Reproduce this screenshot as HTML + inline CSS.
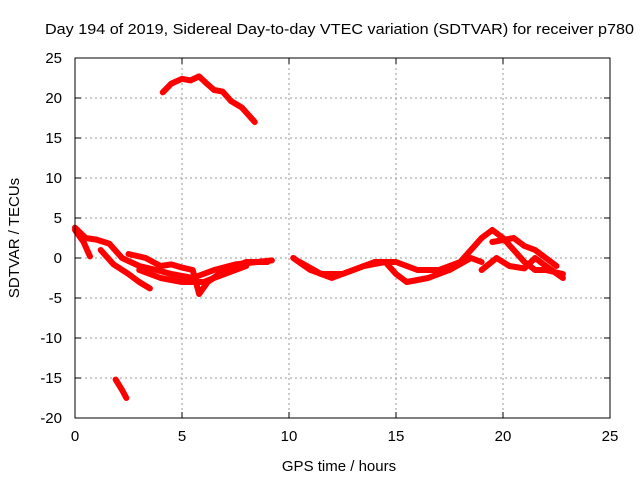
<!DOCTYPE html>
<html><head><meta charset="utf-8"><style>
body{margin:0;background:#fff}
svg{display:block;font-family:"Liberation Sans",sans-serif}
</style></head><body>
<svg id="chart" width="640" height="480">
<text x="45" y="34" textLength="589" lengthAdjust="spacingAndGlyphs" font-size="15">Day 194 of 2019, Sidereal Day-to-day VTEC variation (SDTVAR) for receiver p780</text>
<text x="339" y="471" text-anchor="middle" font-size="15">GPS time / hours</text>
<text transform="translate(19,238) rotate(-90)" text-anchor="middle" font-size="15">SDTVAR / TECUs</text>
<g id="grid"></g><g id="axes"></g><g id="series"></g>
<rect x="75" y="58" width="535" height="360" fill="none" stroke="#000"/>
</svg>
<script>
const xTicks=[0,5,10,15,20,25];
const yTicks=[25,20,15,10,5,0,-5,-10,-15,-20];
const trackTop=[[4.1,20.7],[4.5,21.8],[5,22.4],[5.4,22.2],[5.8,22.7],[6.2,21.7],[6.5,21],[6.9,20.8],[7.3,19.6],[7.8,18.8],[8.4,17]];
const trackLow=[[1.9,-15.2],[2.2,-16.5],[2.4,-17.5]];
const trackC1=[[0,3.8],[0.5,2.5],[1,2.3],[1.6,1.8],[2.2,0],[3,-1],[3.8,-1.5],[4.5,-2],[5.5,-2.5],[6.5,-1.5],[7.5,-0.8],[8.5,-0.5],[9.2,-0.3]];
const trackC2=[[0,3.5],[0.4,2],[0.7,0.2]];
const trackC3=[[1.2,1],[1.8,-0.8],[2.5,-2],[3,-3],[3.5,-3.8]];
const trackC4=[[2.5,0.5],[3.3,0],[4,-1],[4.5,-0.8],[5,-1.2],[5.5,-1.5],[5.8,-4.5],[6.2,-3],[7,-1.5],[8,-0.5],[9,-0.5]];
const trackC5=[[3,-1.5],[4,-2.5],[5,-3],[6,-3],[7,-2],[8,-1]];
const trackD1=[[10.2,0],[11,-1.5],[12,-2.5],[13,-1.5],[14,-0.5],[15,-0.5],[16,-1.5],[17,-1.5],[18,-0.5],[19,2.5],[19.5,3.5],[20,2.5],[20.5,1],[21,-0.5],[21.5,-1.5],[22,-1.5],[22.8,-2]];
const trackD2=[[10.5,-0.5],[11.5,-2],[12.5,-2],[13.5,-1],[14.5,-0.5],[15,-2],[15.5,-3],[16.5,-2.5],[17.5,-1.5],[18.5,0],[19,-0.5]];
const trackD3=[[19,-1.5],[19.7,0],[20.3,-1],[21,-1.3],[21.5,0],[22,-1],[22.8,-2.5]];
const trackD4=[[19.5,2],[20.5,2.5],[21,1.5],[21.5,1],[22,0],[22.5,-1]];
const tracks=[trackTop,trackLow,trackC1,trackC2,trackC3,trackC4,trackC5,trackD1,trackD2,trackD3,trackD4];
const X=v=>75+v*535/25, Y=v=>258-v*8;
const NS="http://www.w3.org/2000/svg";
const grid=document.getElementById('grid'),axes=document.getElementById('axes'),ser=document.getElementById('series');
function mk(t,a,p){const e=document.createElementNS(NS,t);for(const k in a)e.setAttribute(k,a[k]);p.appendChild(e);return e;}
xTicks.forEach(t=>{
 if(t>0&&t<25){const g=mk('line',{x1:X(t),x2:X(t),y1:58,y2:418,stroke:'#999','stroke-dasharray':'2,3'},grid);
 
 }
 const l=mk('text',{x:X(t),y:441,'text-anchor':'middle','font-size':15},axes);l.textContent=t;
 
 
 mk('line',{x1:X(t),x2:X(t),y1:418,y2:412,stroke:'#000'},axes);
 mk('line',{x1:X(t),x2:X(t),y1:58,y2:64,stroke:'#000'},axes);
});
yTicks.forEach(t=>{
 if(t>-20&&t<25){const g=mk('line',{x1:75,x2:610,y1:Y(t),y2:Y(t),stroke:'#999','stroke-dasharray':'2,3'},grid);
 
 }
 const l=mk('text',{x:62,y:Y(t)+5,'text-anchor':'end','font-size':15},axes);l.textContent=t;
 
 
 mk('line',{x1:75,x2:81,y1:Y(t),y2:Y(t),stroke:'#000'},axes);
 mk('line',{x1:604,x2:610,y1:Y(t),y2:Y(t),stroke:'#000'},axes);
});
tracks.forEach(tr=>{
 const p=mk('polyline',{points:tr.map(d=>X(d[0])+','+Y(d[1])).join(' '),fill:'none',stroke:'#f00','stroke-width':6,'stroke-linejoin':'round','stroke-linecap':'round'},ser);
 
 
});
</script>
</body></html>
